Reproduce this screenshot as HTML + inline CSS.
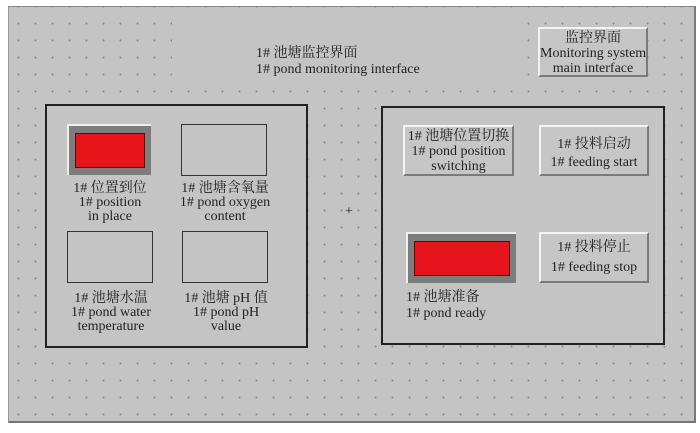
<!DOCTYPE html>
<html><head><meta charset="utf-8"><style>
body{margin:0;width:700px;height:433px;background:#fff;position:relative;overflow:hidden;font-family:"Liberation Serif","Noto Serif CJK SC",serif;color:#222;font-size:14px;line-height:14px}
#c{position:absolute;left:8px;top:6px;width:685px;height:414px;background-color:#c4c4c4;border-top:1px solid #888;border-left:1px solid #999;border-right:2px solid #777;border-bottom:2px solid #777;
background-image:radial-gradient(circle,#8a8a8a 0.8px,transparent 1.2px);background-size:17px 17px;background-position:1px 8px}
.a{position:absolute}
.p{position:absolute;background:#c4c4c4;border:2px solid #222;box-sizing:border-box}
.b{position:absolute;background:#c6c6c6;border-top:2px solid #f4f4f4;border-left:2px solid #f4f4f4;border-right:2px solid #7a7a7a;border-bottom:2px solid #7a7a7a;box-sizing:border-box;text-align:center;white-space:nowrap}
.r{position:absolute;background:#7d7d7d;border-top:2px solid #eee;border-left:2px solid #eee;box-sizing:border-box}
.r div{position:absolute;left:6px;top:7px;right:6px;bottom:7px;background:#e8141c;border:1px solid #5a0a0a}
.e{position:absolute;border:1.5px solid #333;box-sizing:border-box;background:#c4c4c4}
.t{position:absolute;text-align:center;white-space:nowrap}
</style></head><body>
<div id="c"></div>
<div class="a" style="left:172px;top:15px;width:343px;height:70px;background:#c4c4c4"></div>
<div class="t" style="left:256px;top:46px;text-align:left;line-height:16px">1# 池塘监控界面<br>1# pond monitoring interface</div>
<div class="b" style="left:538px;top:27px;width:110px;height:50px;padding-top:2px;line-height:15px">监控界面<br>Monitoring system<br>main interface</div>
<div class="p" style="left:45px;top:104px;width:263px;height:244px"></div>
<div class="p" style="left:381px;top:106px;width:284px;height:239px"></div>
<div class="r" style="left:67px;top:124px;width:84px;height:51px"><div></div></div>
<div class="e" style="left:181px;top:124px;width:86px;height:52px"></div>
<div class="e" style="left:67px;top:231px;width:86px;height:52px"></div>
<div class="e" style="left:182px;top:231px;width:86px;height:52px"></div>
<div class="t" style="left:50px;top:182px;width:120px">1# 位置到位<br>1# position<br>in place</div>
<div class="t" style="left:164px;top:182px;width:122px">1# 池塘含氧量<br>1# pond oxygen<br>content</div>
<div class="t" style="left:50px;top:292px;width:122px">1# 池塘水温<br>1# pond water<br>temperature</div>
<div class="t" style="left:165px;top:292px;width:122px">1# 池塘 pH 值<br>1# pond pH<br>value</div>
<div class="a" style="left:345px;top:205px">+</div>
<div class="b" style="left:403px;top:125px;width:111px;height:51px;padding-top:2px;line-height:15px">1# 池塘位置切换<br>1# pond position<br>switching</div>
<div class="b" style="left:539px;top:125px;width:110px;height:51px;padding-top:9px;line-height:18px">1# 投料启动<br>1# feeding start</div>
<div class="r" style="left:406px;top:232px;width:110px;height:51px"><div></div></div>
<div class="b" style="left:539px;top:232px;width:110px;height:51px;padding-top:4px;line-height:20px">1# 投料停止<br>1# feeding stop</div>
<div class="t" style="left:406px;top:290px;text-align:left;line-height:16px">1# 池塘准备<br>1# pond ready</div>
</body></html>
